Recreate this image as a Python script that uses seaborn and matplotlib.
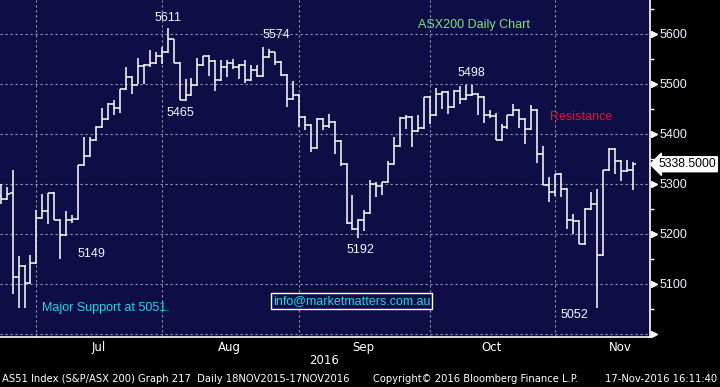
import numpy as np
import pandas as pd
import seaborn as sns
import matplotlib.pyplot as plt
import matplotlib.transforms as mtransforms
from matplotlib import font_manager
from matplotlib.ticker import FixedLocator, MultipleLocator, NullFormatter

# ASX200 daily OHLC, 22 Jun 2016 - 17 Nov 2016
opens = [5275, 5270, 5281, 5113, 5136, 5101, 5142, 5232, 5245, 5281,
         5228, 5197, 5228, 5230, 5338, 5355, 5388, 5413, 5430, 5459,
         5452, 5490, 5513, 5498, 5535, 5538, 5541, 5555, 5563, 5589,
         5542, 5467, 5477, 5498, 5538, 5555, 5545, 5508, 5533, 5541,
         5533, 5537, 5508, 5528, 5515, 5553, 5563, 5543, 5517, 5470,
         5478, 5433, 5417, 5372, 5430, 5415, 5423, 5385, 5340, 5221,
         5209, 5228, 5241, 5300, 5295, 5303, 5340, 5375, 5432, 5433,
         5405, 5412, 5473, 5437, 5479, 5483, 5453, 5485, 5469, 5477,
         5480, 5473, 5437, 5435, 5388, 5413, 5437, 5447, 5430, 5410,
         5447, 5360, 5297, 5283, 5319, 5290, 5228, 5225, 5180, 5250,
         5259, 5157, 5328, 5370, 5345, 5325, 5327]
highs = [5300, 5293, 5327, 5155, 5138, 5157, 5248, 5280, 5281, 5283,
         5230, 5245, 5237, 5338, 5393, 5393, 5415, 5452, 5461, 5467,
         5490, 5533, 5515, 5552, 5540, 5567, 5563, 5573, 5611, 5590,
         5543, 5510, 5512, 5552, 5555, 5557, 5547, 5548, 5547, 5550,
         5539, 5547, 5537, 5537, 5574, 5570, 5564, 5545, 5519, 5505,
         5480, 5435, 5420, 5432, 5432, 5440, 5425, 5387, 5342, 5277,
         5230, 5247, 5307, 5303, 5303, 5345, 5393, 5433, 5437, 5435,
         5437, 5473, 5475, 5492, 5485, 5485, 5487, 5495, 5497, 5498,
         5482, 5475, 5448, 5441, 5419, 5437, 5459, 5450, 5432, 5457,
         5449, 5375, 5313, 5320, 5321, 5292, 5240, 5227, 5252, 5283,
         5290, 5328, 5371, 5372, 5347, 5347, 5343]
lows = [5260, 5268, 5080, 5052, 5052, 5099, 5140, 5230, 5220, 5228,
        5149, 5195, 5221, 5228, 5336, 5353, 5386, 5411, 5428, 5437,
        5441, 5488, 5479, 5499, 5500, 5533, 5539, 5540, 5561, 5541,
        5467, 5465, 5475, 5496, 5536, 5515, 5485, 5506, 5513, 5530,
        5510, 5501, 5505, 5513, 5513, 5551, 5537, 5515, 5453, 5468,
        5413, 5408, 5363, 5370, 5407, 5412, 5360, 5335, 5219, 5208,
        5192, 5205, 5239, 5273, 5277, 5301, 5338, 5373, 5410, 5373,
        5403, 5410, 5419, 5435, 5450, 5440, 5451, 5460, 5467, 5475,
        5437, 5421, 5432, 5388, 5386, 5410, 5435, 5412, 5380, 5408,
        5341, 5297, 5263, 5275, 5273, 5210, 5200, 5180, 5178, 5247,
        5052, 5155, 5326, 5319, 5305, 5323, 5288]
closes = [5270, 5280, 5113, 5136, 5101, 5142, 5232, 5245, 5281, 5228,
          5197, 5228, 5230, 5338, 5355, 5388, 5413, 5430, 5459, 5452,
          5490, 5513, 5498, 5535, 5538, 5541, 5555, 5563, 5589, 5542,
          5467, 5477, 5498, 5538, 5555, 5545, 5508, 5533, 5541, 5533,
          5537, 5508, 5528, 5515, 5553, 5563, 5543, 5517, 5470, 5478,
          5433, 5417, 5372, 5430, 5415, 5423, 5385, 5340, 5221, 5209,
          5228, 5241, 5300, 5295, 5303, 5340, 5375, 5432, 5433, 5405,
          5412, 5473, 5437, 5479, 5483, 5453, 5485, 5469, 5477, 5480,
          5473, 5437, 5435, 5388, 5413, 5437, 5447, 5430, 5410, 5447,
          5360, 5297, 5283, 5319, 5290, 5228, 5225, 5180, 5250, 5259,
          5157, 5328, 5370, 5345, 5325, 5327, 5338.5]

# month boundaries (last bar of previous month) and label centres, in bar index
month_edges = [6, 27, 50, 72, 93]
month_names = ['Jul', 'Aug', 'Sep', 'Oct', 'Nov']
month_mid = [16.4, 38.3, 60.8, 82.3, 103.9]
price_levels = [5000, 5100, 5200, 5300, 5400, 5500, 5600]
last_price = 5338.5

df = pd.DataFrame({'open': opens, 'high': highs, 'low': lows, 'close': closes})
df['i'] = np.arange(len(df))

bg = '#0e0d45'
names = {f.name for f in font_manager.fontManager.ttflist}
narrow = 'Liberation Sans Narrow' if 'Liberation Sans Narrow' in names else 'DejaVu Sans'

sns.set_style("dark", rc={'axes.facecolor': bg, 'figure.facecolor': 'black'})
plt.rcParams['font.family'] = ['Liberation Sans', 'DejaVu Sans']

fig = plt.figure(figsize=(7.2, 3.87), dpi=100)
ax = fig.add_axes([0, 50 / 387, 650 / 720, 337 / 387])
ax.set_facecolor(bg)

# OHLC bars: high-low line, open tick left, close tick right
ax.vlines(df['i'], df['low'], df['high'], color='white', lw=1.1)
ax.hlines(df['open'], df['i'] - 0.5, df['i'], color='white', lw=1.1)
ax.hlines(df['close'], df['i'], df['i'] + 0.5, color='white', lw=1.1)

ax.set_xlim(-0.112, 108.9)
ax.set_ylim(4993, 5667)

# grid
for lv in price_levels:
    ax.axhline(lv, color='#9a9aaa', lw=0.8, ls=(0, (2, 2.5)), zorder=0)
for e in month_edges:
    ax.axvline(e, color='#9a9aaa', lw=0.8, ls=(0, (2, 2.5)), zorder=0)

# spines
for s in ['top', 'left']:
    ax.spines[s].set_visible(False)
for s in ['right', 'bottom']:
    ax.spines[s].set_visible(True)
    ax.spines[s].set_color('white')
    ax.spines[s].set_linewidth(1.2)

# y axis on the right
ax.yaxis.tick_right()
ax.yaxis.set_major_locator(FixedLocator(price_levels[1:]))
ax.yaxis.set_minor_locator(MultipleLocator(50))
ax.tick_params(axis='y', which='major', length=0, pad=7, labelsize=9,
               labelcolor='#eef2ff', left=False, right=True)
ax.tick_params(axis='y', which='minor', length=3, width=1, color='white',
               left=False, right=True)
trans_y = mtransforms.blended_transform_factory(ax.transAxes, ax.transData)
ax.plot([1.006] * len(price_levels), price_levels, ls='', marker='>', ms=5,
        color='white', transform=trans_y, clip_on=False)

# x axis: ticks at month edges, labels centred in month
ax.xaxis.set_major_locator(FixedLocator(month_edges))
ax.xaxis.set_major_formatter(NullFormatter())
ax.xaxis.set_minor_locator(FixedLocator(month_mid))
ax.set_xticks(month_mid, month_names, minor=True)
ax.tick_params(axis='x', which='major', length=4, width=1, color='white', direction='out')
ax.tick_params(axis='x', which='minor', length=0, pad=3, labelsize=8.5, labelcolor='white')
for lab in ax.get_xticklabels(minor=True):
    lab.set_family(narrow)

# last price tag
ax.text(1.0125, last_price, '5338.5000', transform=trans_y, va='center', ha='left',
        fontsize=8.8, color='black', clip_on=False,
        bbox=dict(boxstyle='larrow,pad=0.12', fc='white', ec='white'))

# annotations
lbl = dict(color='#f2f6ff', fontsize=9, ha='center', va='center')
ax.text(28.1, 5631, '5611', **lbl)
ax.text(30.2, 5441, '5465', **lbl)
ax.text(46.2, 5597, '5574', **lbl)
ax.text(15.3, 5159, '5149', **lbl)
ax.text(60.3, 5167, '5192', **lbl)
ax.text(79.0, 5521, '5498', **lbl)
ax.text(96.2, 5037, '5052', **lbl)

ax.text(79.4, 5617, 'ASX200 Daily Chart', color='#80e37f', fontsize=9, ha='center', va='center')
ax.text(97.3, 5433, 'Resistance', color='#e8122e', fontsize=9, ha='center', va='center')
ax.text(6.9, 5051, 'Major Support at 5051.', color='#1fd6ea', fontsize=9, ha='left', va='center')
ax.text(58.9, 5065, 'info@marketmatters.com.au', color='#1fd6ea', fontsize=9, ha='center', va='center',
        bbox=dict(boxstyle='square,pad=0.15', fc=bg, ec='white', lw=1))

# bottom texts
fig.text(324 / 720, 1 - 361 / 387, '2016', color='white', fontsize=8.5, ha='center', va='center',
         family=narrow)
foot = dict(color='white', fontsize=7.2, va='center', family=narrow)
fig.text(2 / 720, 1 - 379 / 387, 'AS51 Index (S&P/ASX 200) Graph 217  Daily 18NOV2015-17NOV2016',
         ha='left', **foot)
fig.text(373 / 720, 1 - 379 / 387, 'Copyright\u00a9 2016 Bloomberg Finance L.P.', ha='left', **foot)
fig.text(717 / 720, 1 - 379 / 387, '17-Nov-2016 16:11:40', ha='right', **foot)

plt.savefig('out.png', dpi=100, facecolor='black')
